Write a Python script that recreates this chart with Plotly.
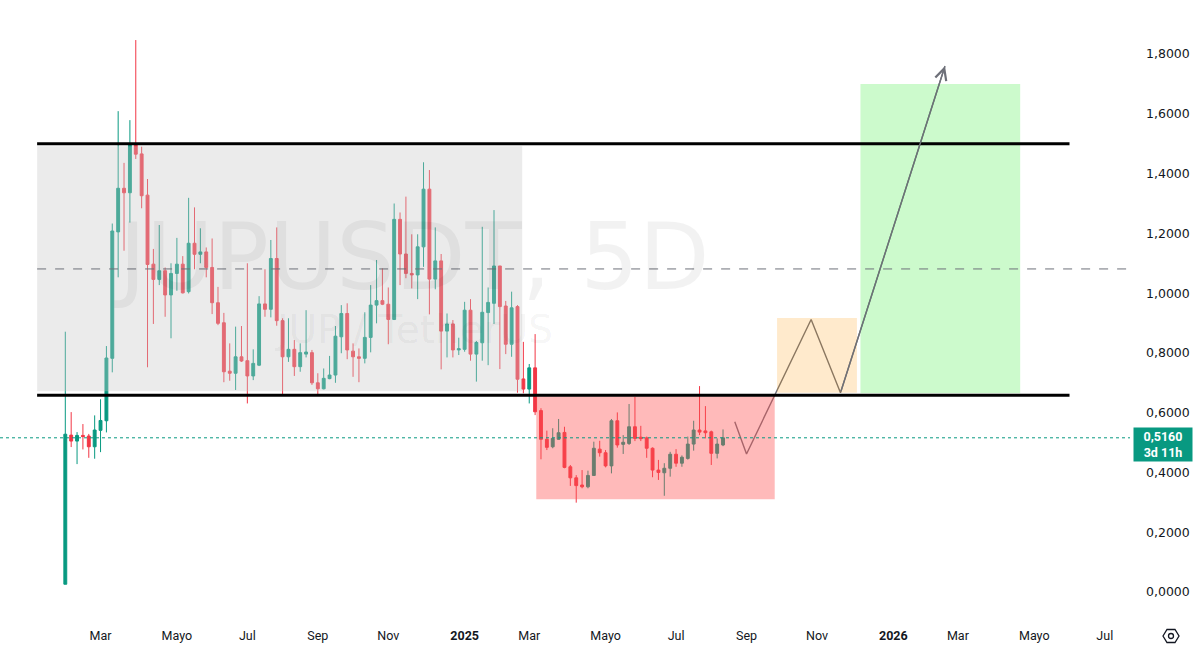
import datetime as dt
import plotly.graph_objects as go

# ---------------- data ----------------
first_bar = dt.datetime(2024, 1, 31)
bar_days = 5

opens = [0.026, 0.525, 0.505, 0.524, 0.522, 0.486, 0.541, 0.573, 0.782, 1.205,
         1.351, 1.336, 1.495, 1.466, 1.328, 1.097, 1.046, 1.075, 0.994, 1.066,
         1.097, 1.005, 1.167, 1.130, 1.138, 1.086, 0.968, 0.901, 0.739, 0.732,
         0.787, 0.774, 0.723, 0.759, 0.964, 0.946, 1.116, 0.908, 0.787, 0.812,
         0.754, 0.796, 0.801, 0.700, 0.680, 0.714, 0.726, 0.854, 0.932, 0.806,
         0.787, 0.782, 0.852, 0.960, 0.975, 0.963, 0.912, 1.247, 1.131, 1.066,
         1.061, 1.155, 1.348, 1.047, 1.108, 0.873, 0.897, 0.810, 0.812, 0.943,
         0.796, 0.834, 0.935, 0.966, 1.091, 0.957, 0.829, 0.955, 0.713, 0.679,
         0.750, 0.607, 0.511, 0.486, 0.511, 0.534, 0.419, 0.382, 0.358, 0.352,
         0.390, 0.478, 0.466, 0.422, 0.573, 0.494, 0.497, 0.553, 0.518, 0.516,
         0.481, 0.408, 0.399, 0.414, 0.461, 0.431, 0.447, 0.495, 0.542, 0.539,
         0.536, 0.464, 0.492]
highs = [0.871, 0.602, 0.535, 0.562, 0.529, 0.591, 0.645, 0.823, 1.233, 1.609,
         1.436, 1.579, 1.847, 1.490, 1.382, 1.148, 1.228, 1.086, 1.100, 1.185,
         1.124, 1.319, 1.287, 1.217, 1.153, 1.183, 1.021, 0.934, 0.832, 0.888,
         0.890, 1.100, 0.812, 0.990, 1.080, 1.178, 1.220, 0.916, 0.916, 0.843,
         0.832, 0.943, 0.810, 0.732, 0.748, 0.790, 0.890, 0.960, 0.966, 0.832,
         0.815, 0.936, 1.027, 1.111, 1.083, 1.019, 1.300, 1.270, 1.323, 1.197,
         1.197, 1.438, 1.412, 1.220, 1.131, 0.932, 0.910, 0.851, 0.971, 0.980,
         0.840, 1.222, 1.019, 1.278, 1.091, 0.974, 1.005, 0.960, 0.837, 0.763,
         0.863, 0.615, 0.540, 0.548, 0.579, 0.553, 0.425, 0.391, 0.408, 0.406,
         0.503, 0.506, 0.475, 0.579, 0.601, 0.525, 0.629, 0.653, 0.556, 0.520,
         0.484, 0.442, 0.431, 0.469, 0.478, 0.457, 0.520, 0.573, 0.689, 0.622,
         0.540, 0.514, 0.544]
lows = [0.026, 0.485, 0.428, 0.477, 0.449, 0.446, 0.468, 0.534, 0.735, 1.053,
        1.142, 1.236, 1.449, 1.284, 0.752, 0.897, 1.027, 0.921, 0.849, 1.008,
        0.999, 0.999, 1.080, 1.100, 1.053, 0.930, 0.893, 0.702, 0.707, 0.676,
        0.770, 0.631, 0.709, 0.756, 0.921, 0.919, 0.891, 0.659, 0.770, 0.723,
        0.737, 0.785, 0.693, 0.659, 0.678, 0.712, 0.700, 0.799, 0.779, 0.720,
        0.702, 0.765, 0.802, 0.899, 0.960, 0.829, 0.910, 1.027, 1.050, 1.016,
        0.980, 1.088, 0.929, 1.013, 0.745, 0.785, 0.785, 0.793, 0.804, 0.774,
        0.704, 0.774, 0.759, 0.897, 0.746, 0.796, 0.787, 0.667, 0.665, 0.631,
        0.592, 0.444, 0.475, 0.481, 0.509, 0.414, 0.355, 0.299, 0.347, 0.347,
        0.389, 0.453, 0.417, 0.397, 0.483, 0.462, 0.492, 0.505, 0.505, 0.449,
        0.384, 0.375, 0.322, 0.386, 0.419, 0.419, 0.443, 0.473, 0.525, 0.514,
        0.425, 0.447, 0.488]
closes = [0.528, 0.505, 0.524, 0.520, 0.486, 0.542, 0.574, 0.783, 1.208, 1.351,
          1.336, 1.495, 1.465, 1.326, 1.096, 1.046, 1.075, 0.994, 1.066, 1.097,
          1.001, 1.167, 1.130, 1.138, 1.086, 0.968, 0.899, 0.737, 0.732, 0.787,
          0.773, 0.723, 0.765, 0.964, 0.946, 1.116, 0.908, 0.787, 0.812, 0.754,
          0.801, 0.803, 0.700, 0.680, 0.715, 0.726, 0.856, 0.932, 0.810, 0.787,
          0.782, 0.852, 0.960, 0.975, 0.963, 0.912, 1.247, 1.131, 1.066, 1.061,
          1.155, 1.348, 1.047, 1.108, 0.873, 0.897, 0.810, 0.814, 0.943, 0.796,
          0.835, 0.936, 0.969, 1.091, 0.955, 0.829, 0.951, 0.712, 0.679, 0.750,
          0.603, 0.511, 0.484, 0.514, 0.533, 0.417, 0.382, 0.356, 0.352, 0.390,
          0.481, 0.466, 0.422, 0.573, 0.492, 0.501, 0.553, 0.514, 0.513, 0.481,
          0.408, 0.400, 0.414, 0.461, 0.431, 0.451, 0.495, 0.542, 0.535, 0.533,
          0.464, 0.495, 0.516]

last_price = 0.516
last_label = "0,5160"
countdown = "3d 11h"

# horizontal levels
range_top = 1.5
range_bottom = 0.658
range_mid = 1.081
levels_start = "2024-01-07"
levels_end = "2026-06-04"

# zones: (x0, x1, y0, y1)
grey_zone = ("2024-01-07", "2025-02-23", 0.672, 1.492)
red_zone = ("2025-03-07", "2025-09-26", 0.310, 0.655)
orange_zone = ("2025-09-28", "2025-12-05", 0.667, 0.917)
green_zone = ("2025-12-08", "2026-04-23", 0.665, 1.700)

# projected path
path_dates = ["2025-08-23", "2025-09-02", "2025-10-27", "2025-11-21"]
path_values = [0.570, 0.462, 0.912, 0.667]
arrow_end = ("2026-02-18", 1.760)

# axis labels
tick_months = [(2024, 3, "Mar"), (2024, 5, "Mayo"), (2024, 7, "Jul"), (2024, 9, "Sep"),
               (2024, 11, "Nov"), (2025, 1, "<b>2025</b>"), (2025, 3, "Mar"),
               (2025, 5, "Mayo"), (2025, 7, "Jul"), (2025, 9, "Sep"), (2025, 11, "Nov"),
               (2026, 1, "<b>2026</b>"), (2026, 3, "Mar"), (2026, 5, "Mayo"),
               (2026, 7, "Jul")]
price_ticks = [0.0, 0.2, 0.4, 0.6, 0.8, 1.0, 1.2, 1.4, 1.6, 1.8]

# ---------------- build ----------------
dates = [first_bar + dt.timedelta(days=bar_days * i) for i in range(len(opens))]

grid = [first_bar + dt.timedelta(days=bar_days * i) for i in range(200)]
tickvals, ticktext = [], []
for y, m, lab in tick_months:
    ms = dt.datetime(y, m, 1)
    d = next(g for g in grid if g >= ms)
    tickvals.append(d)
    ticktext.append(lab)

x_left = first_bar - dt.timedelta(days=55.6)
x_right = first_bar + dt.timedelta(days=906.5)

GREEN = "#089981"
RED = "#F23645"
FONT = "Roboto"
WM_FONT = "DejaVu Sans"

fig = go.Figure()
fig.add_trace(go.Candlestick(
    x=dates, open=opens, high=highs, low=lows, close=closes,
    increasing=dict(line=dict(color=GREEN, width=1), fillcolor=GREEN),
    decreasing=dict(line=dict(color=RED, width=1), fillcolor=RED),
    whiskerwidth=0, hoverinfo="skip", showlegend=False,
))

fig.add_trace(go.Scatter(
    x=path_dates + [arrow_end[0]], y=path_values + [arrow_end[1]],
    mode="lines", line=dict(color="#6e7079", width=1.4),
    hoverinfo="skip", showlegend=False,
))

shapes = []
def rect(z, color):
    shapes.append(dict(type="rect", xref="x", yref="y", x0=z[0], x1=z[1], y0=z[2], y1=z[3],
                       fillcolor=color, line=dict(width=0), layer="above"))

rect(grey_zone, "rgba(200,200,200,0.36)")
rect(red_zone, "rgba(255,82,82,0.4)")
rect(orange_zone, "rgba(255,152,0,0.2)")
rect(green_zone, "rgba(0,230,0,0.2)")

shapes.append(dict(type="line", xref="x", yref="y", x0=levels_start, x1=x_right,
                   y0=range_mid, y1=range_mid,
                   line=dict(color="#6e7079", width=1, dash="dash"), layer="above"))
for lv in (range_top, range_bottom):
    shapes.append(dict(type="line", xref="x", yref="y", x0=levels_start, x1=levels_end,
                       y0=lv, y1=lv, line=dict(color="#000000", width=3), layer="above"))
shapes.append(dict(type="line", xref="paper", yref="y", x0=0, x1=1,
                   y0=last_price, y1=last_price,
                   line=dict(color=GREEN, width=1, dash="dot"), layer="above"))

# settings (gear) icon in the bottom-right corner, drawn in pixel-derived paper units
PW, PH = 1130.0, 620.0
cx, cy = 1171.0, 636.0
def px(xp, yp):
    return f"{xp / PW:.5f},{(PH - yp) / PH:.5f}"
hexpath = ("M" + px(cx - 8, cy) + " L" + px(cx - 4, cy - 6.5) + " L" + px(cx + 4, cy - 6.5)
           + " L" + px(cx + 8, cy) + " L" + px(cx + 4, cy + 6.5) + " L" + px(cx - 4, cy + 6.5) + " Z")
shapes.append(dict(type="path", xref="paper", yref="paper", path=hexpath,
                   line=dict(color="#131722", width=1.3)))
shapes.append(dict(type="circle", xref="paper", yref="paper",
                   x0=(cx - 2.5) / PW, x1=(cx + 2.5) / PW,
                   y0=(PH - cy - 2.5) / PH, y1=(PH - cy + 2.5) / PH,
                   line=dict(color="#131722", width=1.3)))

annotations = [
    dict(text="JUPUSDT, 5D", xref="paper", yref="paper", x=0.365, y=0.585,
         showarrow=False, font=dict(family=WM_FONT, size=92, color="rgba(0,0,0,0.05)"),
         xanchor="center", yanchor="middle"),
    dict(text="JUP / TetherUS", xref="paper", yref="paper", x=0.366, y=0.468,
         showarrow=False, font=dict(family=WM_FONT, size=39, color="rgba(0,0,0,0.05)"),
         xanchor="center", yanchor="middle"),
    dict(x=arrow_end[0], y=arrow_end[1], xref="x", yref="y",
         ax=path_dates[-1], ay=path_values[-1], axref="x", ayref="y",
         showarrow=True, arrowhead=5, arrowsize=1.6, arrowwidth=1.4,
         arrowcolor="#6e7079", text=""),
    dict(text=f"<b>{last_label}</b><br><b>{countdown}</b>", xref="paper", yref="y",
         x=1, y=last_price, xanchor="left", yanchor="top", xshift=3, yshift=11,
         showarrow=False, bgcolor=GREEN, font=dict(family=FONT, size=12.5, color="white"),
         align="center", width=56, borderpad=1),
]

fig.update_layout(
    width=1200, height=651,
    margin=dict(l=0, r=70, t=0, b=31),
    paper_bgcolor="white", plot_bgcolor="white",
    separators=",.",
    font=dict(family=FONT, size=12, color="#131722"),
    shapes=shapes, annotations=annotations,
    xaxis=dict(type="date", range=[x_left, x_right], rangeslider=dict(visible=False),
               tickvals=tickvals, ticktext=ticktext, showgrid=False, zeroline=False,
               showline=False, ticks="", ticklabelstandoff=6,
               tickfont=dict(family=FONT, size=12.5, color="#131722")),
    yaxis=dict(side="right", range=[-0.0937, 1.981], tickvals=price_ticks,
               tickformat=".4f", showgrid=False, zeroline=False, showline=False,
               ticks="", ticklabelstandoff=15,
               tickfont=dict(family="DejaVu Sans", size=12.5, color="#131722")),
)

fig.write_html("out.html")
